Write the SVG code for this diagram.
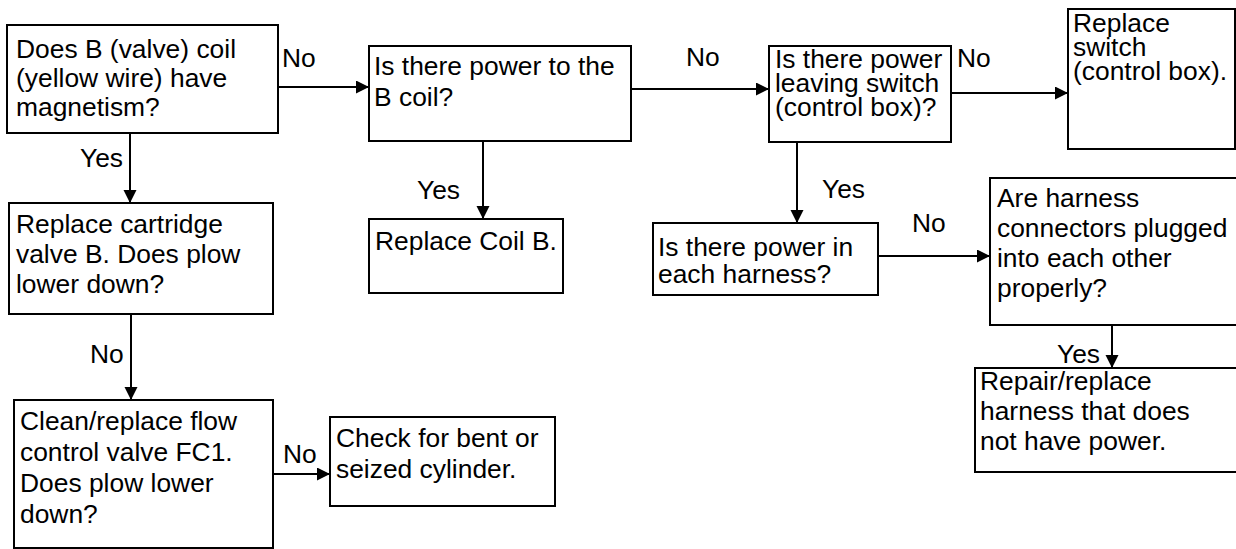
<svg xmlns="http://www.w3.org/2000/svg" width="1236" height="549" viewBox="0 0 1236 549">
<style>
.box{fill:#fff;stroke:#000;stroke-width:2}
.t{font-family:"Liberation Sans",Arial,sans-serif;font-size:26.4px;fill:#000}
.c{fill:none;stroke:#000;stroke-width:2;marker-end:url(#ah)}
</style>
<defs>
<marker id="ah" markerUnits="userSpaceOnUse" markerWidth="14" markerHeight="14" refX="13" refY="6.5" orient="auto">
<path d="M0,0 L13,6.5 L0,13 z" fill="#000"/>
</marker>
</defs>
<rect width="1236" height="549" fill="#fff"/>
<g id="connectors">
<path class="c" d="M278,87 H369"/>
<path class="c" d="M631,89 H769"/>
<path class="c" d="M951,93 H1068"/>
<path class="c" d="M130,133 V203"/>
<path class="c" d="M483,141 V219"/>
<path class="c" d="M797,142 V223"/>
<path class="c" d="M878,256 H990"/>
<path class="c" d="M1112,325 V368"/>
<path class="c" d="M131,314 V400"/>
<path class="c" d="M273,474 H330"/>
<g class="t">
<text x="282" y="67">No</text>
<text x="686" y="66">No</text>
<text x="957" y="67">No</text>
<text x="912" y="232">No</text>
<text x="90" y="363">No</text>
<text x="283" y="463">No</text>
<text x="80" y="167">Yes</text>
<text x="417" y="199">Yes</text>
<text x="822" y="198">Yes</text>
<text x="1057" y="363">Yes</text>
</g>
</g>
<g id="n1"><rect class="box" x="7" y="25" width="271" height="108"/>
<text class="t" x="16" y="58">Does B (valve) coil</text><text class="t" x="16" y="87">(yellow wire) have</text><text class="t" x="16" y="116">magnetism?</text></g>
<g id="n2"><rect class="box" x="369" y="46" width="262" height="95"/>
<text class="t" x="374" y="75">Is there power to the</text><text class="t" x="374" y="106">B coil?</text></g>
<g id="n3"><rect class="box" x="769" y="46" width="182" height="96"/>
<text class="t" x="775" y="68">Is there power</text><text class="t" x="775" y="92">leaving switch</text><text class="t" x="775" y="116">(control box)?</text></g>
<g id="n4"><rect class="box" x="1068" y="9" width="167" height="140"/>
<text class="t" x="1073" y="32">Replace</text><text class="t" x="1073" y="56">switch</text><text class="t" x="1073" y="80">(control box).</text></g>
<g id="n5"><rect class="box" x="9" y="203" width="264" height="111"/>
<text class="t" x="16" y="233">Replace cartridge</text><text class="t" x="16" y="263">valve B. Does plow</text><text class="t" x="16" y="293">lower down?</text></g>
<g id="n6"><rect class="box" x="14" y="400" width="259" height="148"/>
<text class="t" x="20" y="430">Clean/replace flow</text><text class="t" x="20" y="461">control valve FC1.</text><text class="t" x="20" y="492">Does plow lower</text><text class="t" x="20" y="523">down?</text></g>
<g id="n7"><rect class="box" x="330" y="417" width="225" height="89"/>
<text class="t" x="336" y="447">Check for bent or</text><text class="t" x="336" y="478">seized cylinder.</text></g>
<g id="n8"><rect class="box" x="369" y="219" width="194" height="74"/>
<text class="t" x="375" y="250">Replace Coil B.</text></g>
<g id="n9"><rect class="box" x="653" y="223" width="225" height="72"/>
<text class="t" x="658" y="256">Is there power in</text><text class="t" x="658" y="283">each harness?</text></g>
<g id="n10"><rect class="box" x="990" y="178" width="250" height="147"/>
<text class="t" x="997" y="207">Are harness</text><text class="t" x="997" y="237">connectors plugged</text><text class="t" x="997" y="267">into each other</text><text class="t" x="997" y="297">properly?</text></g>
<g id="n11"><rect class="box" x="975" y="368" width="265" height="104"/>
<text class="t" x="980" y="390">Repair/replace</text><text class="t" x="980" y="420">harness that does</text><text class="t" x="980" y="450">not have power.</text></g>
</svg>
